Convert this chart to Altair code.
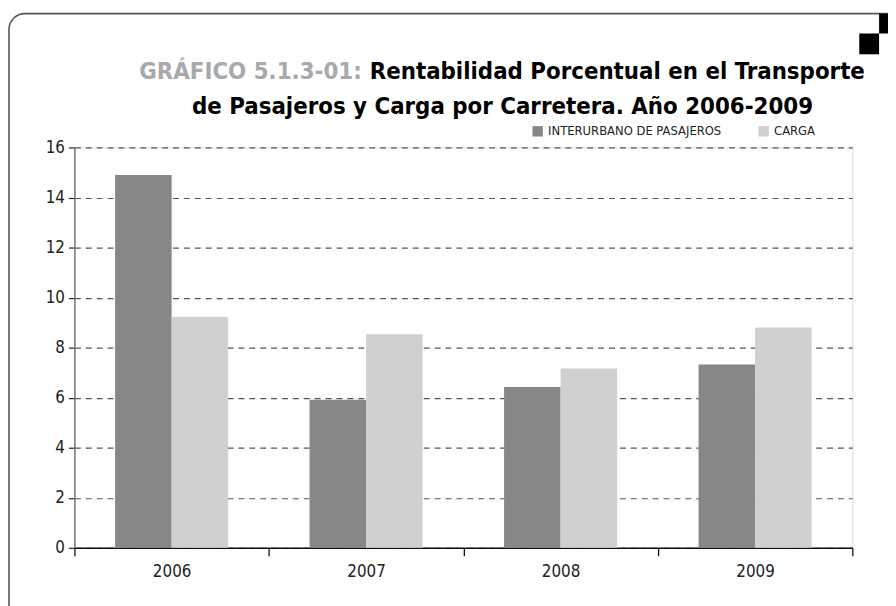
import altair as alt
import pandas as pd

years = ["2006", "2007", "2008", "2009"]
series = ["INTERURBANO DE PASAJEROS", "CARGA"]
pasajeros = [14.9, 5.92, 6.43, 7.33]
carga = [9.23, 8.53, 7.17, 8.8]
colors = ["#878787", "#cfd0d2"]

title_gray = "GRÁFICO 5.1.3-01:"
title_black_1 = "Rentabilidad Porcentual en el Transporte"
title_line_2 = "de Pasajeros y Carga por Carretera. Año 2006-2009"

rows = []
for i, y in enumerate(years):
    rows.append({"year": y, "serie": series[0], "value": pasajeros[i]})
    rows.append({"year": y, "serie": series[1], "value": carga[i]})
df = pd.DataFrame(rows)

FONT = "'DejaVu Sans Condensed', 'Liberation Sans Narrow', 'Liberation Sans', sans-serif"
W, H = 785, 404

bars = alt.Chart(df).mark_bar().encode(
    x=alt.X("year:N", sort=years, title=None,
            scale=alt.Scale(paddingInner=0, paddingOuter=0),
            axis=alt.Axis(labelAngle=0, labelFontSize=17, labelFont=FONT, labelColor="#222",
                          domainColor="#111", domainWidth=1.5, tickColor="#111", tickWidth=1.3,
                          tickSize=8, tickBand="extent", labelPadding=8)),
    xOffset=alt.XOffset("serie:N", sort=series,
                        scale=alt.Scale(paddingInner=0, paddingOuter=0.72)),
    y=alt.Y("value:Q", title=None,
            scale=alt.Scale(domain=[0, 16], nice=False),
            axis=alt.Axis(values=list(range(0, 17, 2)), labelFontSize=17, labelFont=FONT,
                          labelColor="#222", domainColor="#777", domainWidth=1.5,
                          tickColor="#222", tickSize=6, tickWidth=1.2, labelPadding=4,
                          grid=True, gridColor="#555", gridDash=[6, 5], gridWidth=1.2)),
    color=alt.Color("serie:N", sort=series,
                    scale=alt.Scale(domain=series, range=colors),
                    legend=alt.Legend(orient="none", legendX=461, legendY=-23, direction="horizontal",
                                      title=None, symbolType="square", symbolSize=110,
                                      symbolStrokeWidth=0, labelFont=FONT, labelFontSize=13,
                                      labelLimit=400, labelColor="#222", columnPadding=36,
                                      symbolOpacity=1)),
)

def txt(t, x, y, color, align, size=24):
    return alt.Chart(pd.DataFrame({"t": [t]})).mark_text(
        font=FONT, fontWeight="bold", fontSize=size, color=color, align=align, baseline="alphabetic"
    ).encode(text="t:N", x=alt.value(x), y=alt.value(y))

t1a = txt(title_gray, 290, -69, "#a7a9ac", "right")
t1b = txt(title_black_1, 298, -69, "#000000", "left")
t2 = txt(title_line_2, 432, -34, "#000000", "center")

frame = alt.Chart(pd.DataFrame({"a": [0]})).mark_rect(
    fill=None, stroke="#555", strokeWidth=1.6, cornerRadius=16
).encode(x=alt.value(-66), x2=alt.value(900), y=alt.value(-135), y2=alt.value(700))

squares = alt.Chart(pd.DataFrame({"a": [0]})).mark_rect(fill="#000").encode(
    x=alt.value(812), x2=alt.value(830), y=alt.value(-135), y2=alt.value(-115))
squares2 = alt.Chart(pd.DataFrame({"a": [0]})).mark_rect(fill="#000").encode(
    x=alt.value(792), x2=alt.value(812), y=alt.value(-115), y2=alt.value(-94))

chart = alt.layer(frame, bars, t1a, t1b, t2, squares, squares2).properties(
    width=W, height=H,
    autosize=alt.AutoSizeParams(type="none"),
    padding={"left": 67, "top": 138, "right": 36, "bottom": 56},
).configure_view(stroke=None).configure(background="white")

chart.save("out.html", embed_options={"renderer": "svg", "actions": False})
